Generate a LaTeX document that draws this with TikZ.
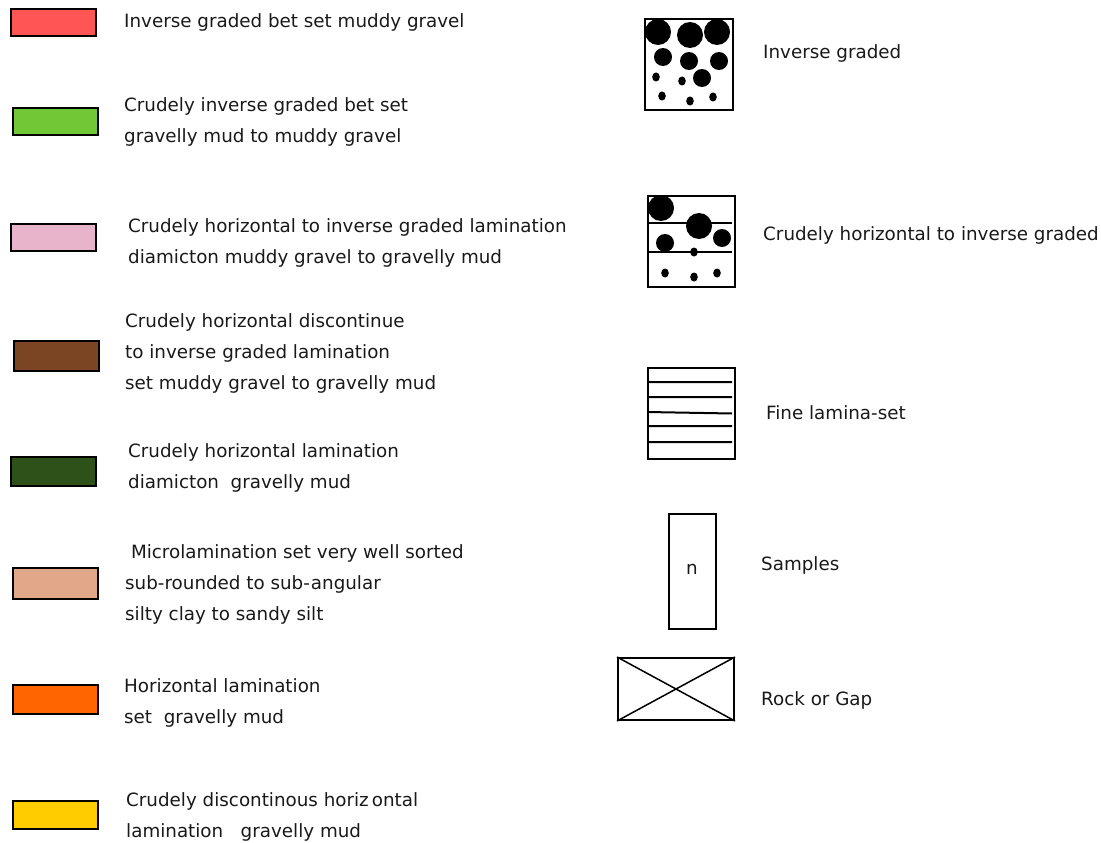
\documentclass[tikz,border=0pt]{standalone}
\usepackage{fontspec}
\setmainfont{DejaVu Sans}
\begin{document}
\begin{tikzpicture}[x=1pt,y=-1pt,
  swatch/.style={draw=black,line width=2.4pt,minimum width=85pt,minimum height=27pt,inner sep=0pt,anchor=north west},
  label/.style={anchor=west,align=left,inner sep=0pt,text=black!90,font=\fontsize{18.3}{31}\selectfont},
  sym/.style={draw=black,line width=2pt,inner sep=0pt,anchor=north west},
  inner/.style={line width=2pt},
  cross/.style={line width=1.5pt},
  grain/.style={fill=black}]
\useasboundingbox (0,0) rectangle (1101,843);
\definecolor{cRed}{HTML}{FF5555}
\definecolor{cGreen}{HTML}{70C837}
\definecolor{cPink}{HTML}{E8B4CC}
\definecolor{cBrown}{HTML}{7B4423}
\definecolor{cDark}{HTML}{2D5119}
\definecolor{cTan}{HTML}{E0A888}
\definecolor{cOrange}{HTML}{FF6600}
\definecolor{cYellow}{HTML}{FFCC00}

% colour legend
\node[swatch,fill=cRed]    (s1) at (10,8) {};
\node[swatch,fill=cGreen]  (s2) at (12,107) {};
\node[swatch,fill=cPink]   (s3) at (10,223) {};
\node[swatch,fill=cBrown,minimum height=30pt]  (s4) at (13,340) {};
\node[swatch,fill=cDark,minimum height=29pt]   (s5) at (10,456) {};
\node[swatch,fill=cTan,minimum height=31pt]    (s6) at (12,567) {};
\node[swatch,fill=cOrange,minimum height=29pt] (s7) at (12,684) {};
\node[swatch,fill=cYellow,minimum height=28pt] (s8) at (12,800) {};

\node[label] (t1) at (124,22)    {Inverse graded bet set muddy gravel};
\node[label] (t2) at (124,121.5) {Crudely inverse graded bet set\\gravelly mud to muddy gravel};
\node[label] (t3) at (128,242.5) {Crudely horizontal to inverse graded lamination\\diamicton muddy gravel to gravelly mud};
\node[label] (t4) at (125,353.5) {Crudely horizontal discontinue\\to inverse graded lamination\\set muddy gravel to gravelly mud};
\node[label] (t5) at (128,467.5) {Crudely horizontal lamination\\diamicton\ \ gravelly mud};
\node[label] (t6) at (125,584)   {\ Microlamination set very well sorted\\sub-rounded to sub-\kern1pt angular\\silty clay to sandy silt};
\node[label] (t7) at (124,702.5) {Horizontal lamination\\set\ \ gravelly mud};
\node[label] (t8) at (126,817)   {Crudely discontinous horiz\kern3pt ontal\\lamination\ \ \ gravelly mud};

% symbol legend: inverse graded
\node[sym,minimum width=88pt,minimum height=91pt] (b1) at (644,18) {};
\fill[grain] (658,32) circle (13) (690,35) circle (13) (717,32) circle (13);
\fill[grain] (663,57) circle (9) (689,61) circle (9) (719,61) circle (9) (702,78) circle (9);
\fill[grain] (656,77) ellipse (3.8 and 4.5) (682,81) ellipse (3.8 and 4.5);
\fill[grain] (662,96) ellipse (3.8 and 4.5) (690,101) ellipse (3.8 and 4.5) (713,97) ellipse (3.8 and 4.5);
\node[label] (r1) at (763,53) {Inverse graded};

% crudely horizontal to inverse graded
\node[sym,minimum width=87pt,minimum height=91pt] (b2) at (647,195) {};
\draw[inner] (647,223) -- (732,223) (647,252) -- (732,252);
\fill[grain] (661,208) circle (13) (699,226) circle (13);
\fill[grain] (722,238) circle (9) (665,243) circle (9);
\fill[grain] (694,252) ellipse (3.8 and 4.5);
\fill[grain] (665,273) ellipse (3.8 and 4.5) (694,277) ellipse (3.8 and 4.5) (717,273) ellipse (3.8 and 4.5);
\node[label] (r2) at (763,235) {Crudely horizontal to inverse graded};

% fine lamina-set
\node[sym,minimum width=87pt,minimum height=91pt] (b3) at (647,367) {};
\draw[inner] (647,382) -- (732,382) (647,397) -- (732,397) (647,412) -- (732,413.5)
             (647,426) -- (732,426) (647,442) -- (732,442);
\node[label] (r3) at (766,413) {Fine lamina-set};

% samples
\node[sym,minimum width=47pt,minimum height=115pt] (b4) at (668,513) {};
\node[label,anchor=center] (n) at (692,569) {n};
\node[label] (r4) at (761,565) {Samples};

% rock or gap
\node[sym,minimum width=116pt,minimum height=62pt] (b5) at (617,657) {};
\draw[cross] (b5.north west) -- (b5.south east) (b5.north east) -- (b5.south west);
\node[label] (r5) at (761,700) {Rock or Gap};
\end{tikzpicture}
\end{document}
